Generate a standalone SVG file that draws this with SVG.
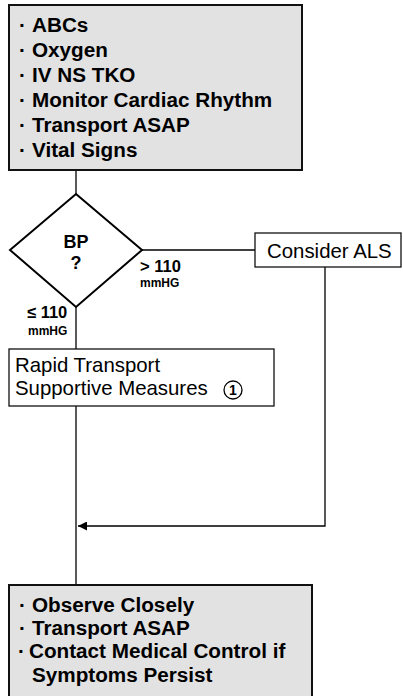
<svg xmlns="http://www.w3.org/2000/svg" width="403" height="696" viewBox="0 0 403 696">
<defs>
<style>
.b{font-family:"Liberation Sans",Arial,sans-serif;font-weight:bold;fill:#000}
.r{font-family:"Liberation Sans",Arial,sans-serif;fill:#000}
.gray{fill:#e2e2e2;stroke:#111;stroke-width:2}
.box{fill:#fff;stroke:#111;stroke-width:1.3}
.ln{fill:none;stroke:#000;stroke-width:1.3}
</style>
<marker id="ah" viewBox="0 0 10 10" refX="10" refY="5" markerWidth="9" markerHeight="9" markerUnits="userSpaceOnUse" orient="auto">
<path d="M0,0 L10,5 L0,10 z" fill="#000"/>
</marker>
</defs>
<rect width="403" height="696" fill="#fff"/>
<g id="connectors">
<line class="ln" x1="76" y1="171" x2="76" y2="194"/>
<line class="ln" x1="142" y1="250" x2="255" y2="250"/>
<line class="ln" x1="76" y1="307" x2="76" y2="349"/>
<line class="ln" x1="76" y1="406" x2="76" y2="585"/>
<polyline class="ln" points="325,267 325,526 78,526" marker-end="url(#ah)"/>
</g>
<g id="start">
<rect class="gray" x="9" y="5" width="293" height="165"/>
<text class="b" font-size="20.7"><tspan x="19" y="32">·</tspan><tspan x="32" y="32">ABCs</tspan></text>
<text class="b" font-size="20.7"><tspan x="19" y="57">·</tspan><tspan x="32" y="57">Oxygen</tspan></text>
<text class="b" font-size="20.7"><tspan x="19" y="82">·</tspan><tspan x="32" y="82">IV NS TKO</tspan></text>
<text class="b" font-size="20.7"><tspan x="19" y="107">·</tspan><tspan x="32" y="107">Monitor Cardiac Rhythm</tspan></text>
<text class="b" font-size="20.7"><tspan x="19" y="132">·</tspan><tspan x="32" y="132">Transport ASAP</tspan></text>
<text class="b" font-size="20.7"><tspan x="19" y="157">·</tspan><tspan x="32" y="157">Vital Signs</tspan></text>
</g>
<g id="bp">
<polygon points="76,194 142,250 76,307 10,250" fill="#fff" stroke="#000" stroke-width="2"/>
<text class="b" font-size="18" x="76" y="248" text-anchor="middle">BP</text>
<text class="b" font-size="18" x="76" y="269" text-anchor="middle">?</text>
</g>
<g id="label-gt">
<text class="b" font-size="16.5" x="140" y="272">&gt; 110</text>
<text class="b" font-size="12" x="140" y="287">mmHG</text>
</g>
<g id="label-le">
<text class="b" font-size="16.5" x="27" y="318">≤ 110</text>
<text class="b" font-size="12" x="28" y="335">mmHG</text>
</g>
<g id="als">
<rect class="box" x="255" y="233" width="146" height="34"/>
<text class="r" font-size="20.4" x="267" y="258">Consider ALS</text>
</g>
<g id="rapid">
<rect class="box" x="9" y="349" width="265" height="57"/>
<text class="r" font-size="20.4" x="15" y="372">Rapid Transport</text>
<text class="r" font-size="20.4" x="15" y="395">Supportive Measures</text>
<circle cx="233" cy="390" r="9" fill="none" stroke="#000" stroke-width="1.3"/>
<text class="b" font-size="14" x="233" y="395" text-anchor="middle">1</text>
</g>
<g id="end">
<rect class="gray" x="9" y="585" width="303" height="120"/>
<text class="b" font-size="20.7"><tspan x="19" y="612">·</tspan><tspan x="32" y="612">Observe Closely</tspan></text>
<text class="b" font-size="20.7"><tspan x="19" y="635">·</tspan><tspan x="32" y="635">Transport ASAP</tspan></text>
<text class="b" font-size="20.7"><tspan x="18" y="658">·</tspan><tspan x="29" y="658">Contact Medical Control if</tspan></text>
<text class="b" font-size="20.7" x="32" y="682">Symptoms Persist</text>
</g>
</svg>
